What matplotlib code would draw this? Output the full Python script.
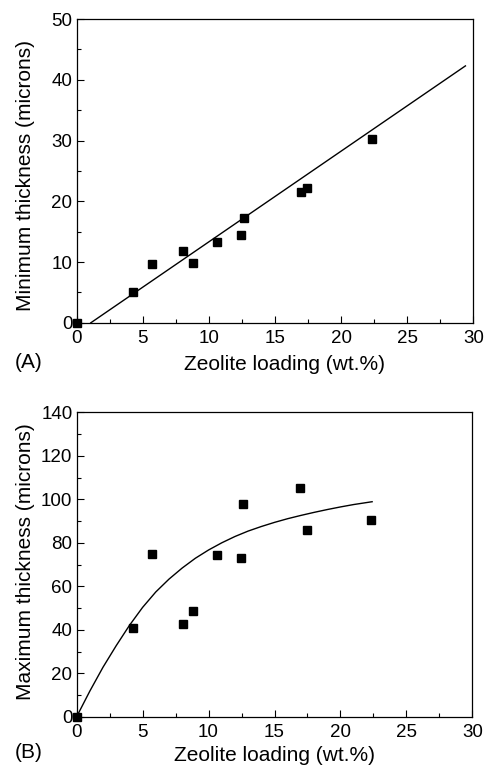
import numpy as np
import matplotlib.pyplot as plt
from matplotlib.ticker import MultipleLocator

plt.rcParams['font.family'] = ['Liberation Sans', 'DejaVu Sans']

# measured data (zeolite loading, wt.%)
loading = [0, 4.3, 5.7, 8.05, 8.8, 10.65, 12.45, 12.65, 16.97, 17.45, 22.35]
min_thick = [0, 5.0, 9.7, 11.8, 9.9, 13.3, 14.5, 17.3, 21.5, 22.2, 30.2]
max_thick = [0, 40.8, 74.8, 42.8, 48.6, 74.2, 73.2, 97.8, 105.1, 85.8, 90.7]

# linear fit for (A): end points
fit_a_x = [1.07, 29.4]
fit_a_y = [0.0, 42.3]

# fitted curve for (B)
fit_b_x = [0, 1, 2, 3, 4, 5, 6, 7, 8, 9, 10, 11, 12, 13, 14, 15, 16, 17, 18, 19, 20, 21, 22.4]
fit_b_y = [0, 11.8, 22.8, 32.7, 42.0, 50.3, 57.4, 63.3, 68.4, 72.9, 76.7, 80.0, 82.9,
           85.4, 87.5, 89.4, 91.1, 92.6, 94.0, 95.3, 96.5, 97.6, 98.9]

fig = plt.figure(figsize=(4.88, 7.65), dpi=100)
ax1 = fig.add_axes([0.157, 0.578, 0.813, 0.397])
ax2 = fig.add_axes([0.157, 0.063, 0.811, 0.398])


def style(ax, ymax, ystep, ylabel, xlab_pos, ylab_pos):
    ax.set_xlim(0, 30)
    ax.set_ylim(0, ymax)
    ax.xaxis.set_major_locator(MultipleLocator(5))
    ax.xaxis.set_minor_locator(MultipleLocator(2.5))
    ax.yaxis.set_major_locator(MultipleLocator(ystep))
    ax.yaxis.set_minor_locator(MultipleLocator(ystep / 2))
    ax.tick_params(which='both', direction='in', top=False, right=False,
                   labelsize=13.5, width=0.8)
    ax.tick_params(axis='x', pad=5)
    ax.tick_params(axis='y', pad=3)
    ax.tick_params(which='major', length=5)
    ax.tick_params(which='minor', length=3)
    for s in ax.spines.values():
        s.set_linewidth(0.9)
    ax.set_xlabel('Zeolite loading (wt.%)', fontsize=15)
    ax.set_ylabel(ylabel, fontsize=15)
    ax.xaxis.set_label_coords(*xlab_pos)
    ax.yaxis.set_label_coords(*ylab_pos)


ax1.plot(fit_a_x, fit_a_y, color='black', lw=1.0)
ax1.plot(loading, min_thick, 's', color='black', ms=6, clip_on=False, zorder=5)
style(ax1, 50, 10, 'Minimum thickness (microns)', (0.525, -0.105), (-0.105, 0.484))
fig.text(0.03, 1 - 362 / 765, '(A)', fontsize=15, va='center')

ax2.plot(fit_b_x, fit_b_y, color='black', lw=1.0)
ax2.plot(loading, max_thick, 's', color='black', ms=6, clip_on=False, zorder=5)
style(ax2, 140, 20, 'Maximum thickness (microns)', (0.5, -0.095), (-0.105, 0.51))
fig.text(0.03, 1 - 753 / 765, '(B)', fontsize=15, va='center')

fig.savefig('out.png', dpi=100)
plt.close(fig)
